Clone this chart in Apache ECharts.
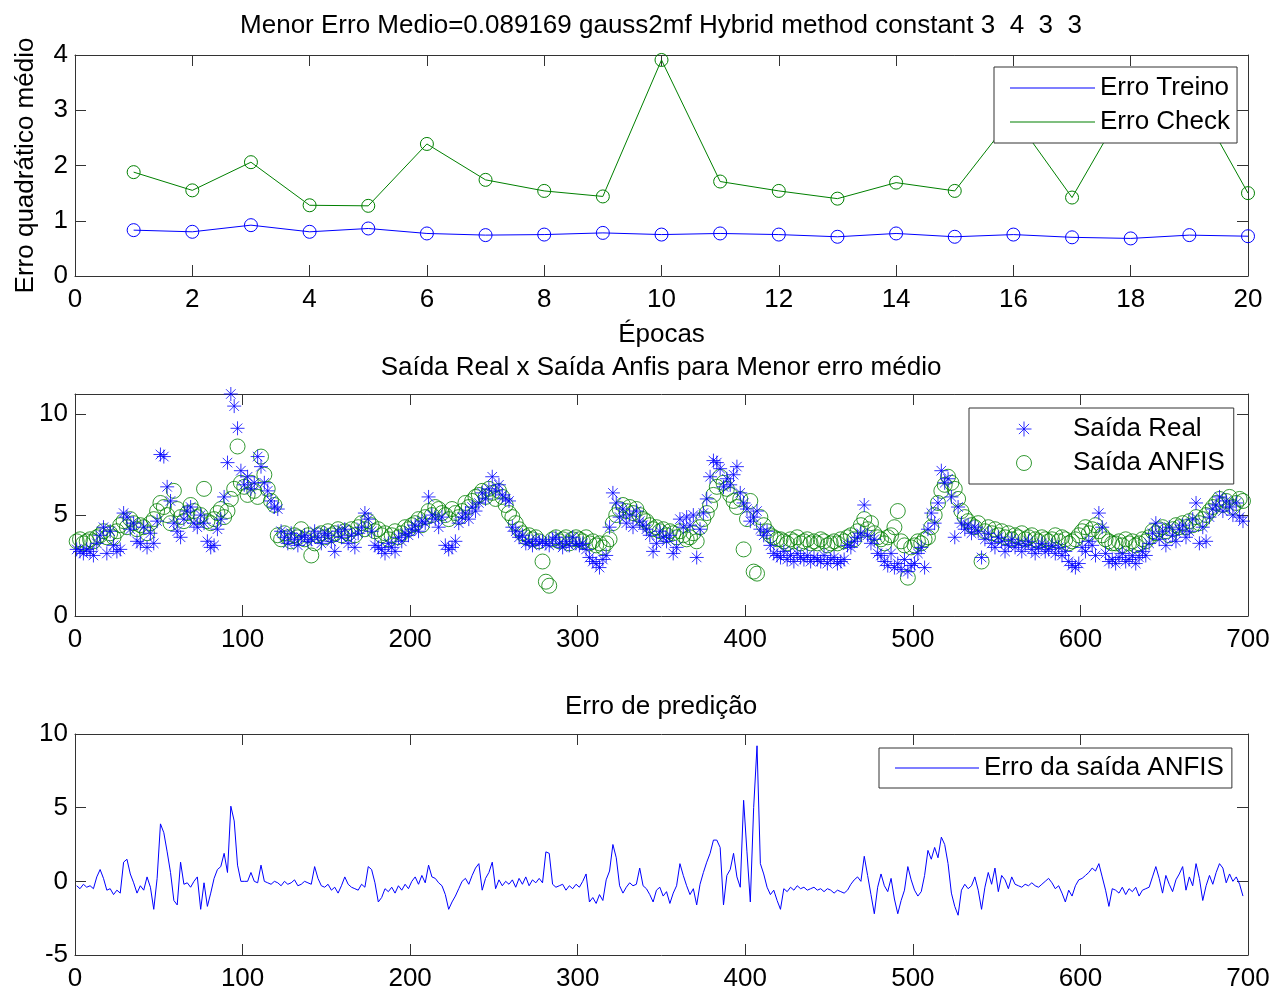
<!DOCTYPE html>
<html><head><meta charset="utf-8">
<script src="https://cdn.jsdelivr.net/npm/echarts@6/dist/echarts.min.js"></script>
<style>html,body{margin:0;padding:0;background:#fff}#c{width:1274px;height:992px}</style>
</head><body><div id="c"></div><script>
// ---- data ----
const epocas = [1,2,3,4,5,6,7,8,9,10,11,12,13,14,15,16,17,18,19,20];
const erroTreino = [0.83,0.80,0.92,0.80,0.86,0.77,0.74,0.75,0.78,0.75,0.77,0.75,0.71,0.77,0.71,0.75,0.70,0.68,0.74,0.72];
const erroCheck = [1.88,1.55,2.06,1.28,1.27,2.39,1.74,1.54,1.44,3.91,1.71,1.54,1.40,1.69,1.54,2.90,1.42,3.26,3.40,1.50];

// sample numbers 1,3,5,...,697 (every second sample)
const amostras = [];
for (let k = 1; k <= 697; k += 2) amostras.push(k);

const saidaReal = [
3.3,3.2,3.1,3.3,3.2,3.0,3.6,4.0,4.4,3.1,
4.2,3.5,3.2,3.3,5.1,4.9,4.3,4.6,3.7,3.6,
4.4,3.4,4.1,3.6,4.7,8.0,7.9,6.4,5.7,4.6,
4.2,3.9,4.8,5.2,5.4,4.6,4.4,5.0,4.6,3.7,
3.4,3.5,4.3,4.8,5.9,7.6,11.0,10.4,9.3,7.2,
6.5,6.9,6.3,6.6,7.9,7.4,6.6,6.2,5.7,5.4,
5.3,4.2,3.9,3.6,4.1,3.8,3.5,3.9,4.0,3.7,
3.8,4.2,3.9,3.6,4.1,4.0,3.7,3.2,4.2,3.9,
4.3,3.6,4.0,3.4,4.1,4.4,5.1,4.8,4.2,3.5,
3.4,3.3,3.1,3.6,3.4,3.2,3.9,3.7,4.1,4.0,
4.3,4.5,4.2,4.7,4.6,5.9,5.0,4.8,4.4,4.9,
3.5,3.3,3.4,3.7,4.6,4.9,5.1,4.8,5.4,5.2,
5.6,6.1,5.8,6.3,6.9,6.2,6.5,6.0,5.8,5.7,
4.4,4.2,3.9,4.0,3.6,3.7,3.5,3.8,3.6,3.7,
3.6,3.5,3.8,3.9,3.6,3.4,3.7,3.5,3.9,3.6,
3.5,3.6,3.3,2.9,2.7,2.6,2.4,2.8,3.0,4.4,
6.1,5.6,4.9,5.3,4.6,5.0,4.4,5.2,4.7,4.5,
4.3,4.0,3.2,3.6,4.2,3.9,3.7,4.0,3.1,3.4,
4.8,4.4,4.9,4.5,5.0,2.9,4.3,5.1,5.8,6.9,
7.7,7.6,7.3,6.4,6.8,6.5,7.0,7.4,6.1,5.6,
5.3,4.7,4.9,5.2,4.3,4.0,4.2,3.5,3.1,3.0,
2.9,3.2,2.8,3.0,2.7,3.1,2.9,2.8,3.0,2.7,
2.9,2.8,2.7,3.0,2.6,2.8,2.9,2.6,2.7,2.8,
3.5,3.4,3.7,3.9,4.1,5.5,4.0,3.6,3.8,3.1,
3.0,2.7,2.5,3.1,2.4,2.6,2.3,2.8,2.2,2.5,
2.6,3.1,3.4,2.4,4.3,5.1,4.6,5.6,7.2,6.6,
6.8,5.9,3.9,5.4,4.6,4.3,4.5,4.1,4.4,4.2,
2.9,3.8,4.1,3.6,3.4,3.9,3.7,3.2,3.5,3.8,
3.4,3.6,3.2,3.5,3.7,3.3,3.1,3.4,3.6,3.2,
3.3,3.5,3.1,3.4,3.0,3.2,2.7,2.5,2.4,2.6,
3.4,3.2,3.7,3.5,3.0,5.1,4.4,3.1,2.7,2.8,
2.6,2.9,3.1,2.7,2.8,3.0,2.6,2.9,3.2,3.0,
3.6,4.1,4.6,3.8,4.2,3.5,4.4,4.0,3.7,4.3,
4.5,3.9,4.2,4.8,5.6,3.6,4.4,3.7,4.9,5.3,
5.5,5.9,5.2,5.7,5.4,5.0,5.6,4.9,4.7
];
const saidaAnfis = [
3.7,3.8,3.6,3.7,3.8,3.7,3.9,4.0,4.2,3.9,
4.1,3.9,4.2,4.5,4.7,4.4,4.8,4.6,4.3,4.5,
4.4,4.1,4.6,4.8,5.2,5.6,5.4,5.0,4.6,6.2,
5.3,4.9,4.7,5.1,5.5,5.2,4.9,5.0,6.3,4.7,
4.6,4.8,5.1,5.3,4.9,5.2,5.8,6.3,8.4,6.6,
6.4,6.0,6.6,6.2,5.9,7.9,7.0,6.3,5.7,5.5,
4.0,3.8,4.1,3.9,3.7,4.0,3.9,4.3,3.8,4.0,
3.0,3.6,4.0,4.1,3.9,4.2,4.0,4.1,4.3,4.0,
4.2,4.1,4.3,4.0,4.4,4.6,4.3,4.7,4.5,4.2,
4.3,4.0,4.1,3.8,4.0,4.2,3.9,4.1,4.4,4.3,
4.5,4.6,4.8,4.5,4.9,5.2,5.0,5.4,5.3,5.1,
5.0,4.8,5.3,5.1,4.9,5.2,5.6,5.4,5.7,5.9,
6.0,6.2,5.9,6.3,6.1,5.8,6.2,5.9,5.5,5.1,
4.9,4.6,4.3,4.1,3.9,4.0,3.8,3.9,3.7,2.7,
1.7,1.5,3.8,3.9,3.7,3.8,3.9,3.6,3.8,3.9,
3.8,3.7,3.9,3.6,3.7,3.5,3.6,3.4,3.6,3.8,
4.6,5.0,5.3,5.5,5.2,5.4,5.1,5.3,5.0,4.8,
4.7,4.5,4.3,4.4,4.2,4.3,4.0,4.2,4.1,3.9,
4.2,4.0,3.8,3.9,4.1,3.7,4.4,4.8,5.1,5.5,
6.0,6.4,6.9,6.6,6.3,6.0,5.7,5.4,5.8,3.3,
4.8,5.7,2.2,2.1,4.9,4.5,4.2,4.0,3.9,3.8,
3.8,3.7,3.6,3.8,3.7,3.9,3.6,3.7,3.8,3.6,
3.7,3.6,3.8,3.7,3.5,3.6,3.7,3.6,3.8,3.7,
3.9,4.0,3.8,4.2,4.5,4.8,4.3,4.6,4.1,3.9,
3.8,3.6,3.9,4.0,4.4,5.2,3.7,3.5,1.9,3.4,
3.5,3.7,3.6,3.8,3.9,4.4,5.0,5.6,6.2,6.5,
6.9,6.6,6.3,5.8,5.2,4.9,4.7,4.5,4.4,4.6,
2.7,4.2,4.4,4.1,4.3,4.0,4.2,3.9,4.1,3.8,
4.0,3.9,4.1,3.8,3.9,4.0,3.8,3.7,3.9,3.8,
3.7,3.8,4.0,3.7,3.9,3.8,3.6,3.7,3.8,4.0,
4.2,4.4,4.1,4.3,4.5,4.2,4.0,3.8,3.7,3.6,
3.6,3.7,3.5,3.8,3.6,3.7,3.5,3.6,3.8,3.7,
3.9,4.2,4.1,4.3,4.4,4.2,4.0,4.3,4.5,4.4,
4.6,4.4,4.7,4.5,4.9,4.6,4.8,5.0,5.2,5.4,
5.6,5.8,5.5,5.7,5.9,5.4,5.6,5.8,5.7
];
const erroPredicao = [
-0.3,-0.5,-0.2,-0.4,-0.3,-0.5,0.3,0.8,0.2,-0.6,
-0.5,-0.9,-0.6,-0.8,1.3,1.5,0.5,-0.1,-0.8,-0.3,
-0.6,0.3,-0.4,-1.9,0.2,3.9,3.3,2.0,0.6,-1.3,
-1.6,1.3,-0.2,-0.1,-0.4,0.0,0.3,-1.9,-0.1,-1.7,
-0.8,0.2,0.8,1.0,1.9,0.6,5.1,4.1,1.1,0.0,
0.0,0.0,0.6,0.0,-0.1,1.1,0.0,-0.1,-0.2,0.0,
-0.1,-0.3,0.0,-0.2,-0.1,0.1,-0.3,-0.2,0.0,-0.1,
-0.2,1.0,0.2,-0.3,-0.4,-0.2,-0.6,-0.4,-0.8,-0.3,
0.3,-0.2,-0.4,-0.5,-0.6,-0.2,-0.4,1.0,0.8,-0.1,
-1.4,-1.1,-0.5,-0.7,-0.4,-0.8,-0.3,-0.6,-0.2,-0.5,
0.0,0.3,-0.2,0.4,-0.1,1.1,0.3,0.2,-0.1,-0.3,
-0.9,-1.9,-1.4,-1.0,-0.5,0.0,0.2,-0.2,0.4,0.9,
1.2,-0.6,0.2,0.6,1.3,-0.5,0.1,-0.3,0.0,-0.2,
0.1,-0.4,0.2,-0.2,0.3,-0.3,0.1,-0.1,0.2,-0.1,
2.0,1.9,-0.2,-0.4,-0.3,-0.2,-0.6,-0.3,-0.5,-0.2,
-0.4,0.0,0.5,-1.4,-1.1,-1.5,-0.9,-1.3,0.1,0.7,
2.5,1.6,-0.3,-0.8,-0.4,-0.1,-0.3,-0.2,0.9,-0.3,
-0.5,-0.9,-1.4,-0.6,-0.4,-1.0,-0.7,-1.5,-0.8,-0.3,
1.2,0.4,-0.3,-0.9,-0.5,-1.6,-0.2,0.6,1.3,1.9,
2.8,2.8,2.3,-1.6,0.4,0.8,1.9,0.3,-0.4,5.5,
2.0,-1.4,5.0,9.2,1.2,0.5,-0.4,-0.9,-0.6,-1.3,
-1.9,-0.5,-0.7,-0.4,-0.6,-0.3,-0.5,-0.4,-0.6,-0.5,
-0.4,-0.6,-0.5,-0.7,-0.5,-0.6,-0.8,-0.6,-0.7,-0.8,
-0.6,-0.2,0.1,0.3,0.0,1.7,0.4,-0.9,-2.2,-0.4,
0.5,-0.3,-0.7,0.2,-1.2,-2.2,-1.3,-0.6,1.0,0.1,
-0.6,-1.0,-0.7,0.4,2.1,1.5,2.3,1.6,3.0,2.5,
1.2,-0.8,-1.7,-2.3,-0.6,-0.2,-0.5,-0.3,0.3,-0.6,
-1.9,-0.4,0.6,-0.2,0.9,-0.7,0.4,0.1,-0.5,0.3,
-0.2,-0.3,-0.4,-0.2,-0.3,-0.1,-0.3,-0.4,-0.2,0.0,
0.2,-0.1,-0.5,-0.3,-0.8,-1.4,-0.6,-1.0,-0.3,0.1,
0.2,0.4,0.6,0.9,0.7,1.2,0.3,-0.6,-1.7,-0.5,
-0.6,-0.8,-0.4,-0.9,-0.5,-0.7,-0.4,-1.0,-0.6,-0.5,
-0.4,0.3,1.0,0.2,-0.8,0.4,-0.2,-0.7,0.1,0.5,
1.0,-0.6,0.3,-0.3,1.2,0.2,-1.3,-0.3,0.4,-0.2,
0.6,1.2,0.9,-0.1,0.5,0.0,0.3,-0.2,-1.0
];

const titulo1 = 'Menor Erro Medio=0.089169 gauss2mf Hybrid method constant 3  4  3  3';
const titulo2 = 'Saída Real x Saída Anfis para Menor erro médio';
const titulo3 = 'Erro de predição';

// ---- chart ----
const FONT = "'Liberation Sans', Arial, sans-serif";
const FS = 26;
const AX = '#333';
const BLUE = '#0000ff', GREEN = '#008000';
const STAR = 'path://M0,5L10,5M5,0L5,10M1.6,1.6L8.4,8.4M8.4,1.6L1.6,8.4';

function pair(xs, ys) { return ys.map((v, i) => [xs[i], v]); }

function xAx(grid, min, max, interval, pos, labels, extra) {
  return Object.assign({
    type: 'value', gridIndex: grid, min, max, interval, position: pos,
    axisLine: { show: true, onZero: false, lineStyle: { color: AX, width: 1 } },
    axisTick: { show: true, inside: true, length: 11, lineStyle: { color: AX, width: 1 } },
    axisLabel: { show: labels, color: '#000', fontSize: FS, fontFamily: FONT, margin: 11 },
    splitLine: { show: false }
  }, extra || {});
}
function yAx(grid, min, max, interval, pos, labels, extra) {
  return Object.assign({
    type: 'value', gridIndex: grid, min, max, interval, position: pos,
    axisLine: { show: true, onZero: false, lineStyle: { color: AX, width: 1 } },
    axisTick: { show: true, inside: true, length: 11, lineStyle: { color: AX, width: 1 } },
    axisLabel: { show: labels, color: '#000', fontSize: FS, fontFamily: FONT, margin: 7 },
    splitLine: { show: false }
  }, extra || {});
}

const legendBase = {
  orient: 'vertical', backgroundColor: '#fff', borderColor: AX, borderWidth: 1,
  itemGap: 4, selectedMode: false, z: 10,
  textStyle: { fontSize: FS, fontFamily: FONT, color: '#000', lineHeight: 30 }
};
const tituloStyle = { fontSize: FS, fontWeight: 'normal', fontFamily: FONT, color: '#000' };

const chart = echarts.init(document.getElementById('c'), null, { renderer: 'canvas' });
chart.setOption({
  animation: false,
  backgroundColor: '#fff',
  title: [
    { text: titulo1, left: 661, top: 13, textAlign: 'center', padding: 0, textStyle: tituloStyle },
    { text: titulo2, left: 661, top: 355, textAlign: 'center', padding: 0, textStyle: tituloStyle },
    { text: titulo3, left: 661, top: 694, textAlign: 'center', padding: 0, textStyle: tituloStyle }
  ],
  grid: [
    { left: 75, width: 1173, top: 55, height: 221 },
    { left: 75, width: 1173, top: 394, height: 222 },
    { left: 75, width: 1173, top: 734, height: 221 }
  ],
  xAxis: [
    xAx(0, 0, 20, 2, 'bottom', true, { name: 'Épocas', nameLocation: 'middle', nameGap: 46,
      nameTextStyle: { fontSize: FS, fontFamily: FONT, color: '#000' } }),
    xAx(0, 0, 20, 2, 'top', false),
    xAx(1, 0, 700, 100, 'bottom', true),
    xAx(1, 0, 700, 100, 'top', false),
    xAx(2, 0, 700, 100, 'bottom', true),
    xAx(2, 0, 700, 100, 'top', false)
  ],
  yAxis: [
    yAx(0, 0, 4, 1, 'left', true, { name: 'Erro quadrático médio', nameLocation: 'middle', nameRotate: 90, nameGap: 36,
      nameTextStyle: { fontSize: 26, fontFamily: FONT, color: '#000' } }),
    yAx(0, 0, 4, 1, 'right', false),
    yAx(1, 0, 11, 5, 'left', true, { axisLabel: { show: true, color: '#000', fontSize: FS, fontFamily: FONT, margin: 7, showMaxLabel: false } }),
    yAx(1, 0, 11, 5, 'right', false),
    yAx(2, -5, 10, 5, 'left', true),
    yAx(2, -5, 10, 5, 'right', false)
  ],
  legend: [
    Object.assign({}, legendBase, {
      left: 994, top: 67, padding: [6, 7, 6, 16], itemWidth: 85, itemHeight: 1,
      data: [
        { name: 'Erro Treino', icon: 'rect', itemStyle: { color: BLUE, borderWidth: 0 } },
        { name: 'Erro Check', icon: 'rect', itemStyle: { color: GREEN, borderWidth: 0 } }
      ]
    }),
    Object.assign({}, legendBase, {
      left: 969, top: 408, padding: [6, 9, 6, 47], itemWidth: 88, itemHeight: 15,
      data: [
        { name: 'Saída Real', icon: STAR, itemStyle: { color: 'rgba(0,0,0,0)', borderColor: BLUE, borderWidth: 1 } },
        { name: 'Saída ANFIS', icon: 'circle', itemStyle: { color: 'rgba(0,0,0,0)', borderColor: GREEN, borderWidth: 1 } }
      ]
    }),
    Object.assign({}, legendBase, {
      left: 879, top: 748, padding: [5, 8, 5, 16], itemWidth: 84, itemHeight: 1,
      data: [ { name: 'Erro da saída ANFIS', icon: 'rect', itemStyle: { color: BLUE, borderWidth: 0 } } ]
    })
  ],
  series: [
    { name: 'Erro Treino', type: 'line', xAxisIndex: 0, yAxisIndex: 0, data: pair(epocas, erroTreino),
      symbol: 'circle', symbolSize: 13, showAllSymbol: true,
      lineStyle: { color: BLUE, width: 1 },
      itemStyle: { color: 'rgba(0,0,0,0)', borderColor: BLUE, borderWidth: 1 } },
    { name: 'Erro Check', type: 'line', xAxisIndex: 0, yAxisIndex: 0, data: pair(epocas, erroCheck),
      symbol: 'circle', symbolSize: 13, showAllSymbol: true,
      lineStyle: { color: GREEN, width: 1 },
      itemStyle: { color: 'rgba(0,0,0,0)', borderColor: GREEN, borderWidth: 1 } },
    { name: 'Saída ANFIS', type: 'scatter', xAxisIndex: 2, yAxisIndex: 2, data: pair(amostras, saidaAnfis),
      symbol: 'circle', symbolSize: 15, z: 2,
      itemStyle: { color: 'rgba(0,0,0,0)', borderColor: GREEN, borderWidth: 1 } },
    { name: 'Saída Real', type: 'scatter', xAxisIndex: 2, yAxisIndex: 2, data: pair(amostras, saidaReal),
      symbol: STAR, symbolSize: 14, z: 3,
      itemStyle: { color: 'rgba(0,0,0,0)', borderColor: BLUE, borderWidth: 1 } },
    { name: 'Erro da saída ANFIS', type: 'line', xAxisIndex: 4, yAxisIndex: 4, data: pair(amostras, erroPredicao),
      showSymbol: false, symbol: 'none', lineStyle: { color: BLUE, width: 1 } }
  ]
});
</script></body></html>
